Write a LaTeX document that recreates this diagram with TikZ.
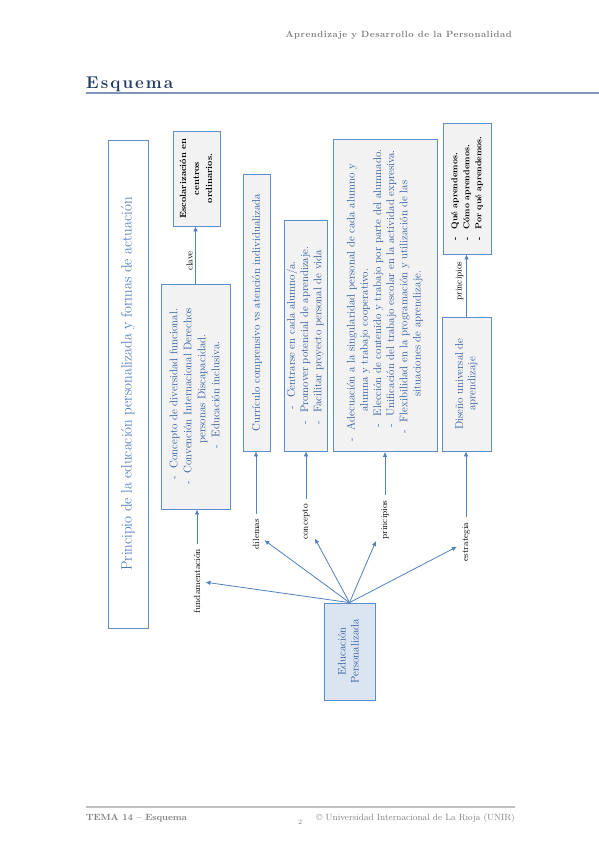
\documentclass[tikz,border=0pt]{standalone}
\usepackage{fontspec}
\usepackage{graphicx}
\usepackage{tikz}
\usetikzlibrary{arrows.meta, positioning}

\newfontfamily\headfont[LetterSpace=6]{Latin Modern Roman}
\newfontfamily\esqfont[LetterSpace=12]{Latin Modern Roman}

\definecolor{boxline}{HTML}{5F8DCB}
\definecolor{boxfill}{HTML}{F2F2F2}
\definecolor{edufill}{HTML}{DBE5F1}
\definecolor{arrowblue}{HTML}{4F81BD}
\definecolor{txtblue}{HTML}{2B579A}
\definecolor{titleblue}{HTML}{3D6DB5}
\definecolor{headgray}{HTML}{7F7F7F}
\definecolor{esqblue}{HTML}{1F3864}
\definecolor{esqline}{HTML}{8096B8}
\definecolor{footline}{HTML}{C0C0C0}

\tikzset{
  box/.style={draw=boxline, line width=0.8pt, fill=boxfill, inner sep=0pt, text=txtblue, font=\fontsize{11}{14}\selectfont},
  lbl/.style={fill=white, inner sep=5pt, font=\fontsize{9}{10}\selectfont},
  arr/.style={-{Latex[length=5pt, width=4.5pt]}, draw=arrowblue, line width=0.8pt},
}
\newcommand{\vt}[1]{\rotatebox{90}{#1}}
\newcommand{\itm}{-\hspace{8pt}}

\begin{document}
\begin{tikzpicture}[x=1pt, y=-1pt]
\useasboundingbox (0,0) rectangle (599,848);

% page header
\node[anchor=base east, inner sep=0pt, text=headgray, font=\headfont\bfseries\fontsize{9}{10}\selectfont] (head) at (512,38) {Aprendizaje y Desarrollo de la Personalidad};
\node[anchor=base west, inner sep=0pt, text=esqblue, font=\esqfont\bfseries\fontsize{17}{19}\selectfont] (esq) at (86,89) {Esquema};
\draw[esqline, line width=2pt] (86,93.5) -- (599,93.5);

% boxes
\node[box, fill=white, text=titleblue, font=\fontsize{15}{17}\selectfont, minimum width=40pt, minimum height=488pt] (title) at (128,384) {\vt{Principio de la educación personalizada y formas de actuación}};

\node[box, text=black, font=\bfseries\fontsize{9}{13}\selectfont, minimum width=47pt, minimum height=95pt] (esc) at (196.5,178.5) {\vt{\begin{tabular}{@{}c@{}}Escolarización en\\ centros\\ ordinarios.\end{tabular}}};

\node[box, minimum width=69pt, minimum height=225pt] (fund) at (195.5,396.5) {\vt{\begin{tabular}{@{}l@{}}
\hspace{5pt}\itm Concepto de diversidad funcional.\\
\itm Convención Internacional Derechos\\
\hspace{41pt}personas Discapacidad.\\
\hspace{36pt}\itm Educación inclusiva.
\end{tabular}}};

\node[box, minimum width=27pt, minimum height=277pt] (curr) at (257,312.5) {\vt{Currículo comprensivo vs atención individualizada}};

\node[box, font=\fontsize{11}{13.2}\selectfont, minimum width=43pt, minimum height=231pt] (centr) at (305.5,335.5) {\vt{\begin{tabular}{@{}l@{}}
\hspace{15pt}\itm Centrarse en cada alumno/a.\\
\itm Promover potencial de aprendizaje.\\
\itm Facilitar proyecto personal de vida
\end{tabular}}};

\node[box, font=\fontsize{11}{13.2}\selectfont, minimum width=104pt, minimum height=312pt] (adec) at (385,295.5) {\vt{\begin{tabular}{@{}l@{}}
\itm Adecuación a la singularidad personal de cada alumno y\\
\hspace{30pt}alumna y trabajo cooperativo.\\
\hspace{14pt}\itm Elección de contenido y trabajo por parte del alumnado.\\
\hspace{14pt}\itm Unificación del trabajo escolar en la actividad expresiva.\\
\hspace{8pt}\itm Flexibilidad en la programación y utilización de las\\
\hspace{45pt}situaciones de aprendizaje.
\end{tabular}}};

\node[box, text=black, font=\bfseries\fontsize{8.5}{12}\selectfont, minimum width=48pt, minimum height=131pt] (que) at (467,188.5) {\vt{\begin{tabular}{@{}l@{}}
\itm Qué aprendemos.\\
\itm Cómo aprendemos.\\
\itm Por qué aprendemos.
\end{tabular}}};

\node[box, font=\fontsize{11}{12.5}\selectfont, minimum width=49pt, minimum height=134pt] (dis) at (466.5,384) {\vt{\begin{tabular}{@{}c@{}}Diseño universal de\\ aprendizaje\end{tabular}}};

\node[box, fill=edufill, font=\fontsize{11}{13}\selectfont, minimum width=51pt, minimum height=97pt] (edu) at (349.5,651.5) {\vt{\begin{tabular}{@{}c@{}}Educación\\ Personalizada\end{tabular}}};

% labels
\node[lbl] (lfund) at (197,581) {\vt{fundamentación}};
\node[lbl] (ldil) at (256,534) {\vt{dilemas}};
\node[lbl] (lconc) at (306,522) {\vt{concepto}};
\node[lbl] (lprin) at (385,520) {\vt{principios}};
\node[lbl] (lestr) at (466,542) {\vt{estrategia}};
\node[lbl, inner sep=1pt] (lclave) at (189.5,261) {\vt{clave}};
\node[lbl, inner sep=1pt] (lprin2) at (459.5,281) {\vt{principios}};

% connectors
\foreach \l in {lfund, ldil, lconc, lprin, lestr}
  \draw[arr] (edu.north) -- (\l);
\foreach \l/\b in {lfund/fund, ldil/curr, lconc/centr, lprin/adec, lestr/dis}
  \draw[arr] (\l.north) -- (\l.north |- \b.south);
\draw[arr] (fund.north) -- (fund.north |- esc.south);
\draw[arr] (dis.north) -- (dis.north |- que.south);

% page footer
\draw[footline, line width=1.5pt] (86,807) -- (515,807);
\node[anchor=base west, inner sep=0pt, text=headgray, font=\bfseries\fontsize{9}{10}\selectfont] (tema) at (86,820) {TEMA 14 – Esquema};
\node[anchor=base, inner sep=0pt, text=headgray, font=\fontsize{7}{8}\selectfont] (pg) at (300,824) {2};
\node[anchor=base east, inner sep=0pt, text=headgray, font=\fontsize{9}{10}\selectfont] (unir) at (515,820) {© Universidad Internacional de La Rioja (UNIR)};
\end{tikzpicture}
\end{document}
